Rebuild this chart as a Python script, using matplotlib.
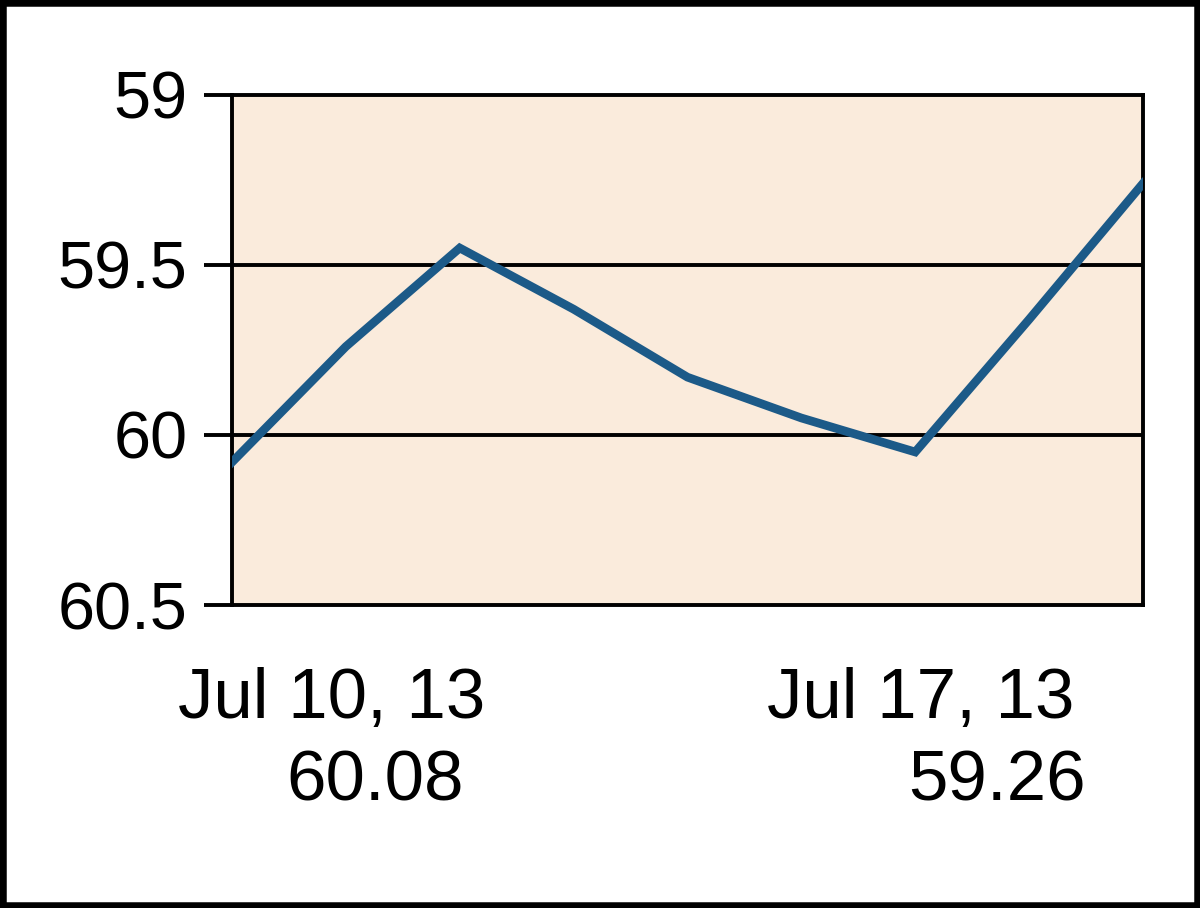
import matplotlib.pyplot as plt
from matplotlib.patches import Rectangle

# price series (inverted axis chart)
points = list(range(9))
prices = [60.08, 59.74, 59.45, 59.63, 59.83, 59.95, 60.05, 59.66, 59.26]
yticks = [59, 59.5, 60, 60.5]
ytick_labels = ["59", "59.5", "60", "60.5"]
start_label = ("Jul 10, 13", "60.08")
end_label = ("Jul 17, 13", "59.26")

plt.rcParams['font.family'] = ['Liberation Sans', 'DejaVu Sans']

fig = plt.figure(figsize=(12, 9.08), dpi=100)
ax = fig.add_axes([0.1933, 0.3337, 0.7592, 0.5617])
ax.set_facecolor('#FAEBDC')

ax.plot(points, prices, color='#1C5A88', lw=6.2, solid_joinstyle='miter', zorder=3)

ax.set_xlim(points[0], points[-1])
ax.set_ylim(60.5, 59)
ax.set_yticks(yticks)
ax.set_yticklabels(ytick_labels, fontsize=48)
ax.set_xticks([])
ax.tick_params(axis='y', length=20, width=2.8, pad=12, color='black')
for s in ax.spines.values():
    s.set_linewidth(2.8)
    s.set_color('black')
for v in yticks[1:-1]:
    ax.axhline(v, color='black', lw=2.8, zorder=2)

fig.text(0.276, 0.229, start_label[0], fontsize=51, ha='center', va='center')
fig.text(0.313, 0.138, start_label[1], fontsize=51, ha='center', va='center')
fig.text(0.7675, 0.229, end_label[0], fontsize=51, ha='center', va='center')
fig.text(0.831, 0.138, end_label[1], fontsize=51, ha='center', va='center')

fig.patches.append(Rectangle((0, 0), 1, 1, transform=fig.transFigure,
                             fill=False, edgecolor='black', lw=9))

fig.savefig('out.png', dpi=100)
